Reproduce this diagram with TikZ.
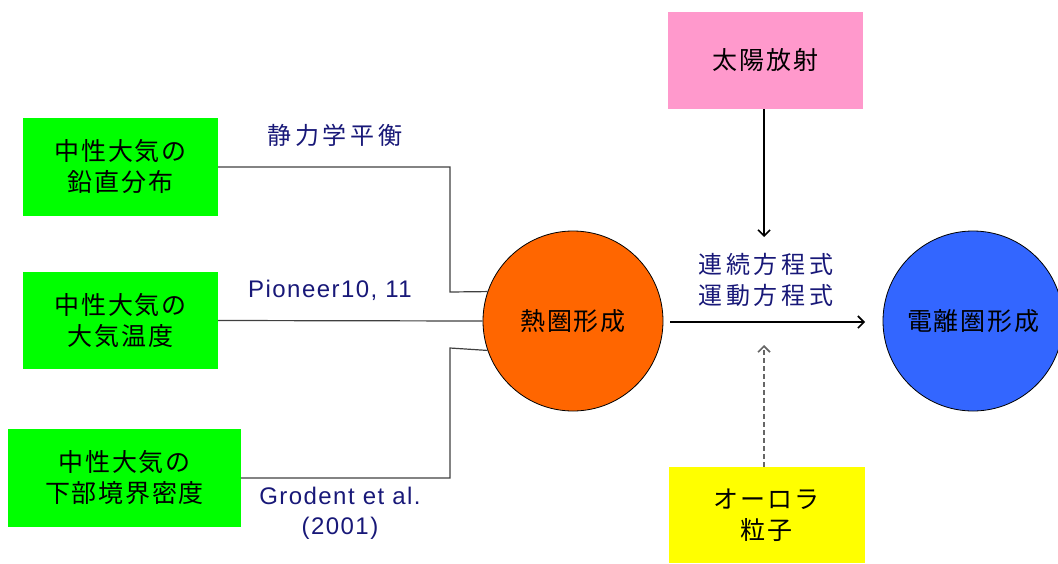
\documentclass[tikz,border=0pt]{standalone}
\usepackage{fontspec}
\setmainfont{Liberation Sans}[LetterSpace=6]
\newfontfamily\jp{Noto Sans CJK JP}[LetterSpace=7]
\newfontfamily\jplab{Noto Sans CJK JP}[LetterSpace=15]
\usetikzlibrary{arrows.meta}
\definecolor{boxgreen}{RGB}{0,255,0}
\definecolor{boxpink}{RGB}{255,153,204}
\definecolor{boxyellow}{RGB}{255,255,0}
\definecolor{heatorange}{RGB}{255,102,0}
\definecolor{ionblue}{RGB}{51,102,255}
\definecolor{labnavy}{RGB}{24,24,120}
\definecolor{conngray}{RGB}{64,64,64}
\tikzset{
  box/.style={rectangle, inner sep=0pt, align=center, font=\jp\fontsize{25}{31}\selectfont},
  ball/.style={circle, draw=black, line width=0.8pt, minimum size=180pt, inner sep=0pt, font=\jp\fontsize{25}{31}\selectfont},
  lab/.style={align=center, text=labnavy, inner sep=0pt},
  conn/.style={draw=conngray, line width=1.2pt},
  arr/.style={draw=black, line width=1.3pt, -{Straight Barb[length=6pt,width=12pt,line width=1.6pt]}},
}
\begin{document}
\begin{tikzpicture}[x=1pt,y=-1pt]
\useasboundingbox (0,0) rectangle (1058,563);

\node[box, fill=boxgreen, minimum width=195pt, minimum height=98pt] (g1) at (120.5,167) {中性大気の\\鉛直分布};
\node[box, fill=boxgreen, minimum width=195pt, minimum height=97pt] (g2) at (120.5,320.5) {中性大気の\\大気温度};
\node[box, fill=boxgreen, minimum width=233pt, minimum height=98pt] (g3) at (124.5,478) {中性大気の\\下部境界密度};
\node[box, fill=boxpink, minimum width=195pt, minimum height=97pt] (sun) at (765.5,60.5) {太陽放射};
\node[box, fill=boxyellow, minimum width=196pt, minimum height=96pt] (aur) at (766.5,515) {オーロラ\\粒子};

\node[ball, fill=heatorange] (heat) at (573,321) {熱圏形成};
\node[ball, fill=ionblue] (ion) at (973,321) {電離圏形成};

\node[lab, font=\jplab\fontsize{24}{30}\selectfont] (l1) at (335,135) {静力学平衡};
\node[lab, font=\fontsize{24}{30}\selectfont] (l2) at (330,290) {Pioneer10, 11};
\node[lab, font=\fontsize{24}{30}\selectfont] (l3) at (340,513) {Grodent et al.\\(2001)};
\node[lab, font=\jplab\fontsize{24}{31}\selectfont] (l4) at (766,280) {連続方程式\\運動方程式};

\coordinate (j1) at (450,292);
\coordinate (j3) at (450,348);
\draw[conn] (g1.east) -| (j1) -- (heat.161);
\draw[conn] (g2.east) -- (heat.west);
\draw[conn] (g3.east) -| (j3) -- (heat.199);

\coordinate (sunend) at (764,237);
\coordinate (aurend) at (764,345);
\coordinate (hstart) at (670,322);
\coordinate (hend) at (865,322);
\draw[arr] (sun.south -| sunend) -- (sunend);
\draw[arr, dash pattern=on 5pt off 3pt, draw=conngray!80] (aur.north -| aurend) -- (aurend);
\draw[arr] (hstart) -- (hend);
\end{tikzpicture}
\end{document}
